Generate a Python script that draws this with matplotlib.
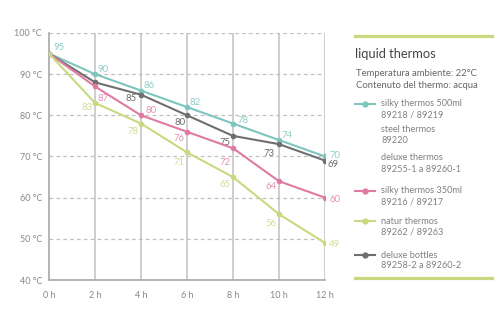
import matplotlib.pyplot as plt
from matplotlib.lines import Line2D

plt.rcParams['font.family'] = ['Lato', 'DejaVu Sans']

hours = [0, 2, 4, 6, 8, 10, 12]
hour_labels = ["0 h", "2 h", "4 h", "6 h", "8 h", "10 h", "12 h"]
temp_ticks = [40, 50, 60, 70, 80, 90, 100]

silky_500 = [95, 90, 86, 82, 78, 74, 70]
deluxe_bottles = [95, 88, 85, 80, 75, 73, 69]
silky_350 = [95, 87, 80, 76, 72, 64, 60]
natur = [95, 83, 78, 71, 65, 56, 49]

# line colour, label colour, label offsets in points (None = no label)
series = [
    (silky_500, "#7cc6bd", "#8fcdc6",
     [(3, 4), (2, 3.6), (2, 4), (2, 3.6), (3, 2), (2, 3.6), (3, 0.5)]),
    (deluxe_bottles, "#6f6f6f", "#6a6a6a",
     [None, None, (-3, -3), (-1, -5), (-2, -4.5), (-3, -6.5), (2, -3)]),
    (silky_350, "#e07aa3", "#e592b4",
     [None, (2, -8.5), (3, 3.6), (-1.5, -5), (-2, -10), (-2, -4), (3, -1)]),
    (natur, "#c8da7e", "#cfdd95",
     [None, (-2, -3), (-2, -6), (-1.5, -7.5), (-2, -5), (-2, -6.5), (3, -1)]),
]

fig = plt.figure(figsize=(5.0, 3.26), dpi=100)
ax = fig.add_axes([0.098, 0.141, 0.552, 0.758])

for vals, col, lcol, offs in series:
    ax.plot(hours, vals, color=col, lw=1.5, marker='o', ms=3, zorder=3)
    for x, y, off in zip(hours, vals, offs):
        if off is None:
            continue
        ha = 'left' if off[0] > 0 else 'right'
        ax.annotate(str(y), (x, y), xytext=off, textcoords='offset points',
                    ha=ha, va='center', fontsize=6.8, color=lcol)

ax.set_xlim(0, 12)
ax.set_ylim(40, 100)
ax.set_xticks(hours)
ax.set_xticklabels(hour_labels)
ax.set_yticks(temp_ticks)
ax.set_yticklabels([f"{t} °C" for t in temp_ticks])
ax.tick_params(length=0, labelsize=6.5, labelcolor="#888888")
ax.tick_params(axis='x', pad=8)
ax.tick_params(axis='y', pad=5)

for x in hours[1:]:
    ax.axvline(x, color="#c6c6c6", lw=1.2, zorder=1)
for t in temp_ticks[1:]:
    ax.axhline(t, color="#c0c0c0", lw=0.9, ls=(0, (3, 2.5)), zorder=1)
for side in ['top', 'right']:
    ax.spines[side].set_visible(False)
for side in ['left', 'bottom']:
    ax.spines[side].set_color("#a8a8a8")
    ax.spines[side].set_linewidth(1.2)

# legend panel on the right, placed in pixel coordinates
def px(x, y):
    return x / 500, 1 - y / 326

bar_green = "#c8da7e"
for yb in (36, 278):
    fig.add_artist(Line2D([355 / 500, 492 / 500], [px(0, yb)[1]] * 2,
                          color=bar_green, lw=2.3))
fig.text(*px(355, 54), "liquid thermos", fontsize=9.3, color="#444444", va='center')
fig.text(*px(356, 73), "Temperatura ambiente: 22°C", fontsize=6.8, color="#666666", va='center')
fig.text(*px(356, 85), "Contenuto del thermo: acqua", fontsize=6.8, color="#666666", va='center')

entries = [
    ("silky thermos 500ml", "89218 / 89219", "#7cc6bd", 104),
    ("steel thermos", "89220", None, 130),
    ("deluxe thermos", "89255-1 a 89260-1", None, 158),
    ("silky thermos 350ml", "89216 / 89217", "#e07aa3", 191),
    ("natur thermos", "89262 / 89263", "#c8da7e", 221),
    ("deluxe bottles", "89258-2 a 89260-2", "#6f6f6f", 255),
]
for name, code, col, y in entries:
    if col is not None:
        fig.add_artist(Line2D([355 / 500, 375 / 500], [px(0, y)[1]] * 2,
                              color=col, lw=1.5))
        fig.add_artist(Line2D([365 / 500], [px(0, y)[1]], color=col,
                              marker='o', ms=3.5))
    fig.text(*px(381, y), name, fontsize=6.6, color="#808080", va='center')
    fig.text(*px(381, y + 11), code, fontsize=6.6, color="#808080", va='center')

fig.savefig("out.png", dpi=100)
